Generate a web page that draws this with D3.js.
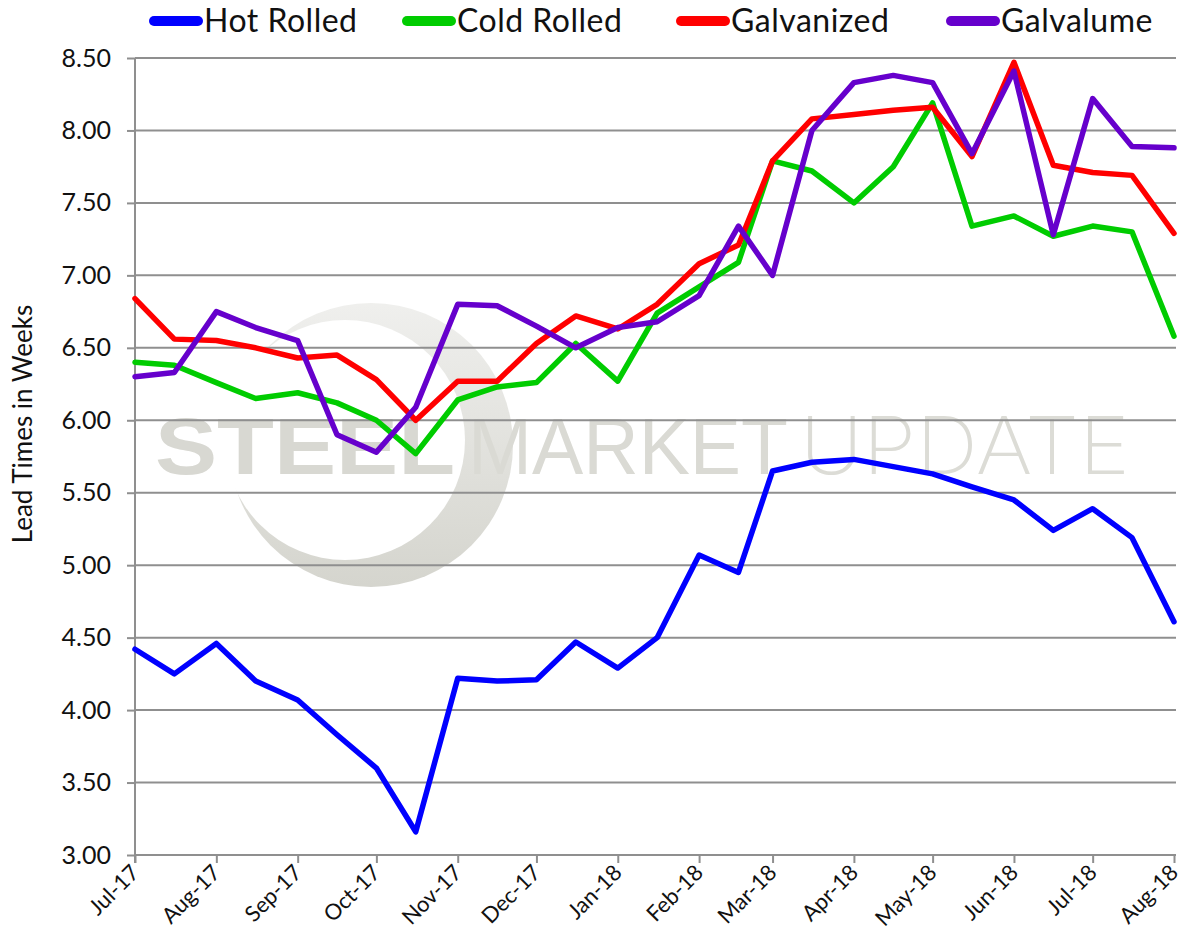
<!DOCTYPE html>
<html>
<head>
<meta charset="utf-8">
<script src="https://cdn.jsdelivr.net/npm/d3@7/dist/d3.min.js"></script>
<style>
  html, body { margin: 0; padding: 0; background: #fff; }
  svg { display: block; }
</style>
</head>
<body>
<svg id="chart" width="1184" height="947"></svg>
<script>
// Survey dates: start and middle of each month
const surveyDates = [
  "2017-07-01","2017-07-16","2017-08-01","2017-08-16","2017-09-01","2017-09-16",
  "2017-10-01","2017-10-16","2017-11-01","2017-11-16","2017-12-01","2017-12-16",
  "2018-01-01","2018-01-16","2018-02-01","2018-02-16","2018-03-01","2018-03-16",
  "2018-04-01","2018-04-16","2018-05-01","2018-05-16","2018-06-01","2018-06-16",
  "2018-07-01","2018-07-16","2018-08-01"
];

// Lead times in weeks
const hotRolled  = [4.42,4.25,4.46,4.20,4.07,3.83,3.60,3.16,4.22,4.20,4.21,4.47,4.29,4.50,5.07,4.95,5.65,5.71,5.73,5.68,5.63,5.54,5.45,5.24,5.39,5.19,4.61];
const coldRolled = [6.40,6.38,6.26,6.15,6.19,6.12,6.00,5.77,6.14,6.23,6.26,6.53,6.27,6.74,6.92,7.09,7.79,7.72,7.50,7.75,8.19,7.34,7.41,7.27,7.34,7.30,6.58];
const galvanized = [6.84,6.56,6.55,6.50,6.43,6.45,6.28,6.00,6.27,6.27,6.53,6.72,6.63,6.80,7.08,7.21,7.79,8.08,8.11,8.14,8.16,7.82,8.47,7.76,7.71,7.69,7.29];
const galvalume  = [6.30,6.33,6.75,6.64,6.55,5.90,5.78,6.09,6.80,6.79,6.65,6.50,6.64,6.68,6.86,7.34,7.00,8.00,8.33,8.38,8.33,7.84,8.41,7.28,8.22,7.89,7.88];

const seriesNames  = ["Hot Rolled", "Cold Rolled", "Galvanized", "Galvalume"];
const seriesColors = ["#0000FF", "#00CC00", "#FF0000", "#6600CC"];
const yTicks = [3.0, 3.5, 4.0, 4.5, 5.0, 5.5, 6.0, 6.5, 7.0, 7.5, 8.0, 8.5];
const xTickDates = ["2017-07-01","2017-08-01","2017-09-01","2017-10-01","2017-11-01","2017-12-01",
  "2018-01-01","2018-02-01","2018-03-01","2018-04-01","2018-05-01","2018-06-01","2018-07-01","2018-08-01"];

const parse = d3.utcParse("%Y-%m-%d");
const dates = surveyDates.map(parse);
const series = [hotRolled, coldRolled, galvanized, galvalume].map((vals, i) => ({
  name: seriesNames[i], color: seriesColors[i],
  points: vals.map((v, j) => ({ date: dates[j], value: v }))
}));

const svg = d3.select("#chart");
const margin = { left: 135, right: 10, top: 58, bottom: 92 };
const width = 1184, height = 947;

const x = d3.scaleUtc()
  .domain([parse(xTickDates[0]), parse(xTickDates[xTickDates.length - 1])])
  .range([margin.left, width - margin.right]);
const y = d3.scaleLinear().domain([3, 8.5]).range([height - margin.bottom, margin.top]);

const font = "Lato, 'Open Sans', sans-serif";
const gridColor = "#8f8f8f";

// Watermark logo behind the plot
const wm = svg.append("g").attr("class", "watermark");
const defs = svg.append("defs");
const mask = defs.append("mask").attr("id", "crescent");
mask.append("rect").attr("x", 0).attr("y", 0).attr("width", width).attr("height", height).attr("fill", "black");
mask.append("circle").attr("cx", 371).attr("cy", 445).attr("r", 142).attr("fill", "white");
mask.append("circle").attr("cx", 345).attr("cy", 440).attr("r", 120).attr("fill", "black");
const grad = defs.append("linearGradient").attr("id", "wmgrad").attr("x1", 0).attr("y1", 0).attr("x2", 0).attr("y2", 1);
grad.append("stop").attr("offset", "0%").attr("stop-color", "#f0f0ee");
grad.append("stop").attr("offset", "100%").attr("stop-color", "#d4d4cd");
wm.append("rect").attr("x", 220).attr("y", 295).attr("width", 310).attr("height", 300)
  .attr("fill", "url(#wmgrad)").attr("mask", "url(#crescent)");

const wmY = 474;
wm.append("text").attr("x", 155).attr("y", wmY)
  .attr("font-family", "'Liberation Sans', Arial, sans-serif").attr("font-weight", 900)
  .attr("font-size", 80).attr("fill", "#d8d8d2")
  .attr("textLength", 300).attr("lengthAdjust", "spacingAndGlyphs").text("STEEL");
wm.append("text").attr("x", 468).attr("y", wmY)
  .attr("font-family", "'Liberation Sans', Arial, sans-serif").attr("font-weight", 400)
  .attr("font-size", 80).attr("fill", "#dadad4")
  .attr("textLength", 320).attr("lengthAdjust", "spacingAndGlyphs").text("MARKET");
wm.append("text").attr("x", 800).attr("y", wmY)
  .attr("font-family", "Inter, 'Open Sans', sans-serif").attr("font-weight", 200)
  .attr("font-size", 80).attr("fill", "#dcdcd6")
  .attr("textLength", 330).attr("lengthAdjust", "spacingAndGlyphs").text("UPDATE");

// Horizontal gridlines
svg.append("g").selectAll("line").data(yTicks.slice(1)).join("line")
  .attr("x1", margin.left).attr("x2", width - margin.right + 2)
  .attr("y1", d => y(d)).attr("y2", d => y(d))
  .attr("stroke", gridColor).attr("stroke-width", 2);

// Y axis
const yAxis = svg.append("g").attr("transform", `translate(${margin.left},0)`)
  .call(d3.axisLeft(y).tickValues(yTicks).tickFormat(d3.format(".2f")).tickSize(8).tickPadding(16));
yAxis.select(".domain").attr("stroke", gridColor).attr("stroke-width", 2)
  .attr("d", `M0,${y(3) + 8}V${y(8.5)}`);
yAxis.selectAll(".tick line").attr("stroke", gridColor).attr("stroke-width", 2);
yAxis.selectAll(".tick text").attr("font-family", font).attr("font-size", 25).attr("fill", "#111");

// X axis
const xAxis = svg.append("g").attr("transform", `translate(0,${y(3)})`)
  .call(d3.axisBottom(x).tickValues(xTickDates.map(parse)).tickFormat(d3.utcFormat("%b-%y")).tickSize(8));
xAxis.select(".domain").attr("stroke", gridColor).attr("stroke-width", 2)
  .attr("d", `M${margin.left},0H${width - margin.right + 2}`);
xAxis.selectAll(".tick line").attr("stroke", gridColor).attr("stroke-width", 2);
xAxis.selectAll(".tick text")
  .attr("font-family", font).attr("font-size", 22).attr("fill", "#111")
  .attr("text-anchor", "end").attr("dy", null).attr("y", 0)
  .attr("transform", "translate(5,19) rotate(-45)");

// Axis title
svg.append("text")
  .attr("transform", `translate(32,424) rotate(-90)`)
  .attr("text-anchor", "middle")
  .attr("font-family", font).attr("font-size", 26).attr("fill", "#111")
  .text("Lead Times in Weeks");

// Series lines
const line = d3.line().x(d => x(d.date)).y(d => y(d.value));
svg.append("g").selectAll("path").data(series).join("path")
  .attr("d", d => line(d.points))
  .attr("fill", "none").attr("stroke", d => d.color)
  .attr("stroke-width", 5.5).attr("stroke-linejoin", "round").attr("stroke-linecap", "round");

// Legend
const legendX = [150, 403, 677, 947];
const legend = svg.append("g").selectAll("g").data(series).join("g")
  .attr("transform", (d, i) => `translate(${legendX[i]},21)`);
legend.append("line").attr("x1", 4).attr("x2", 48).attr("y1", 0).attr("y2", 0)
  .attr("stroke", d => d.color).attr("stroke-width", 10).attr("stroke-linecap", "round");
legend.append("text").attr("x", 54).attr("y", 11)
  .attr("font-family", font).attr("font-size", 32).attr("letter-spacing", 0.5).attr("fill", "#111")
  .text(d => d.name);
</script>
</body>
</html>
